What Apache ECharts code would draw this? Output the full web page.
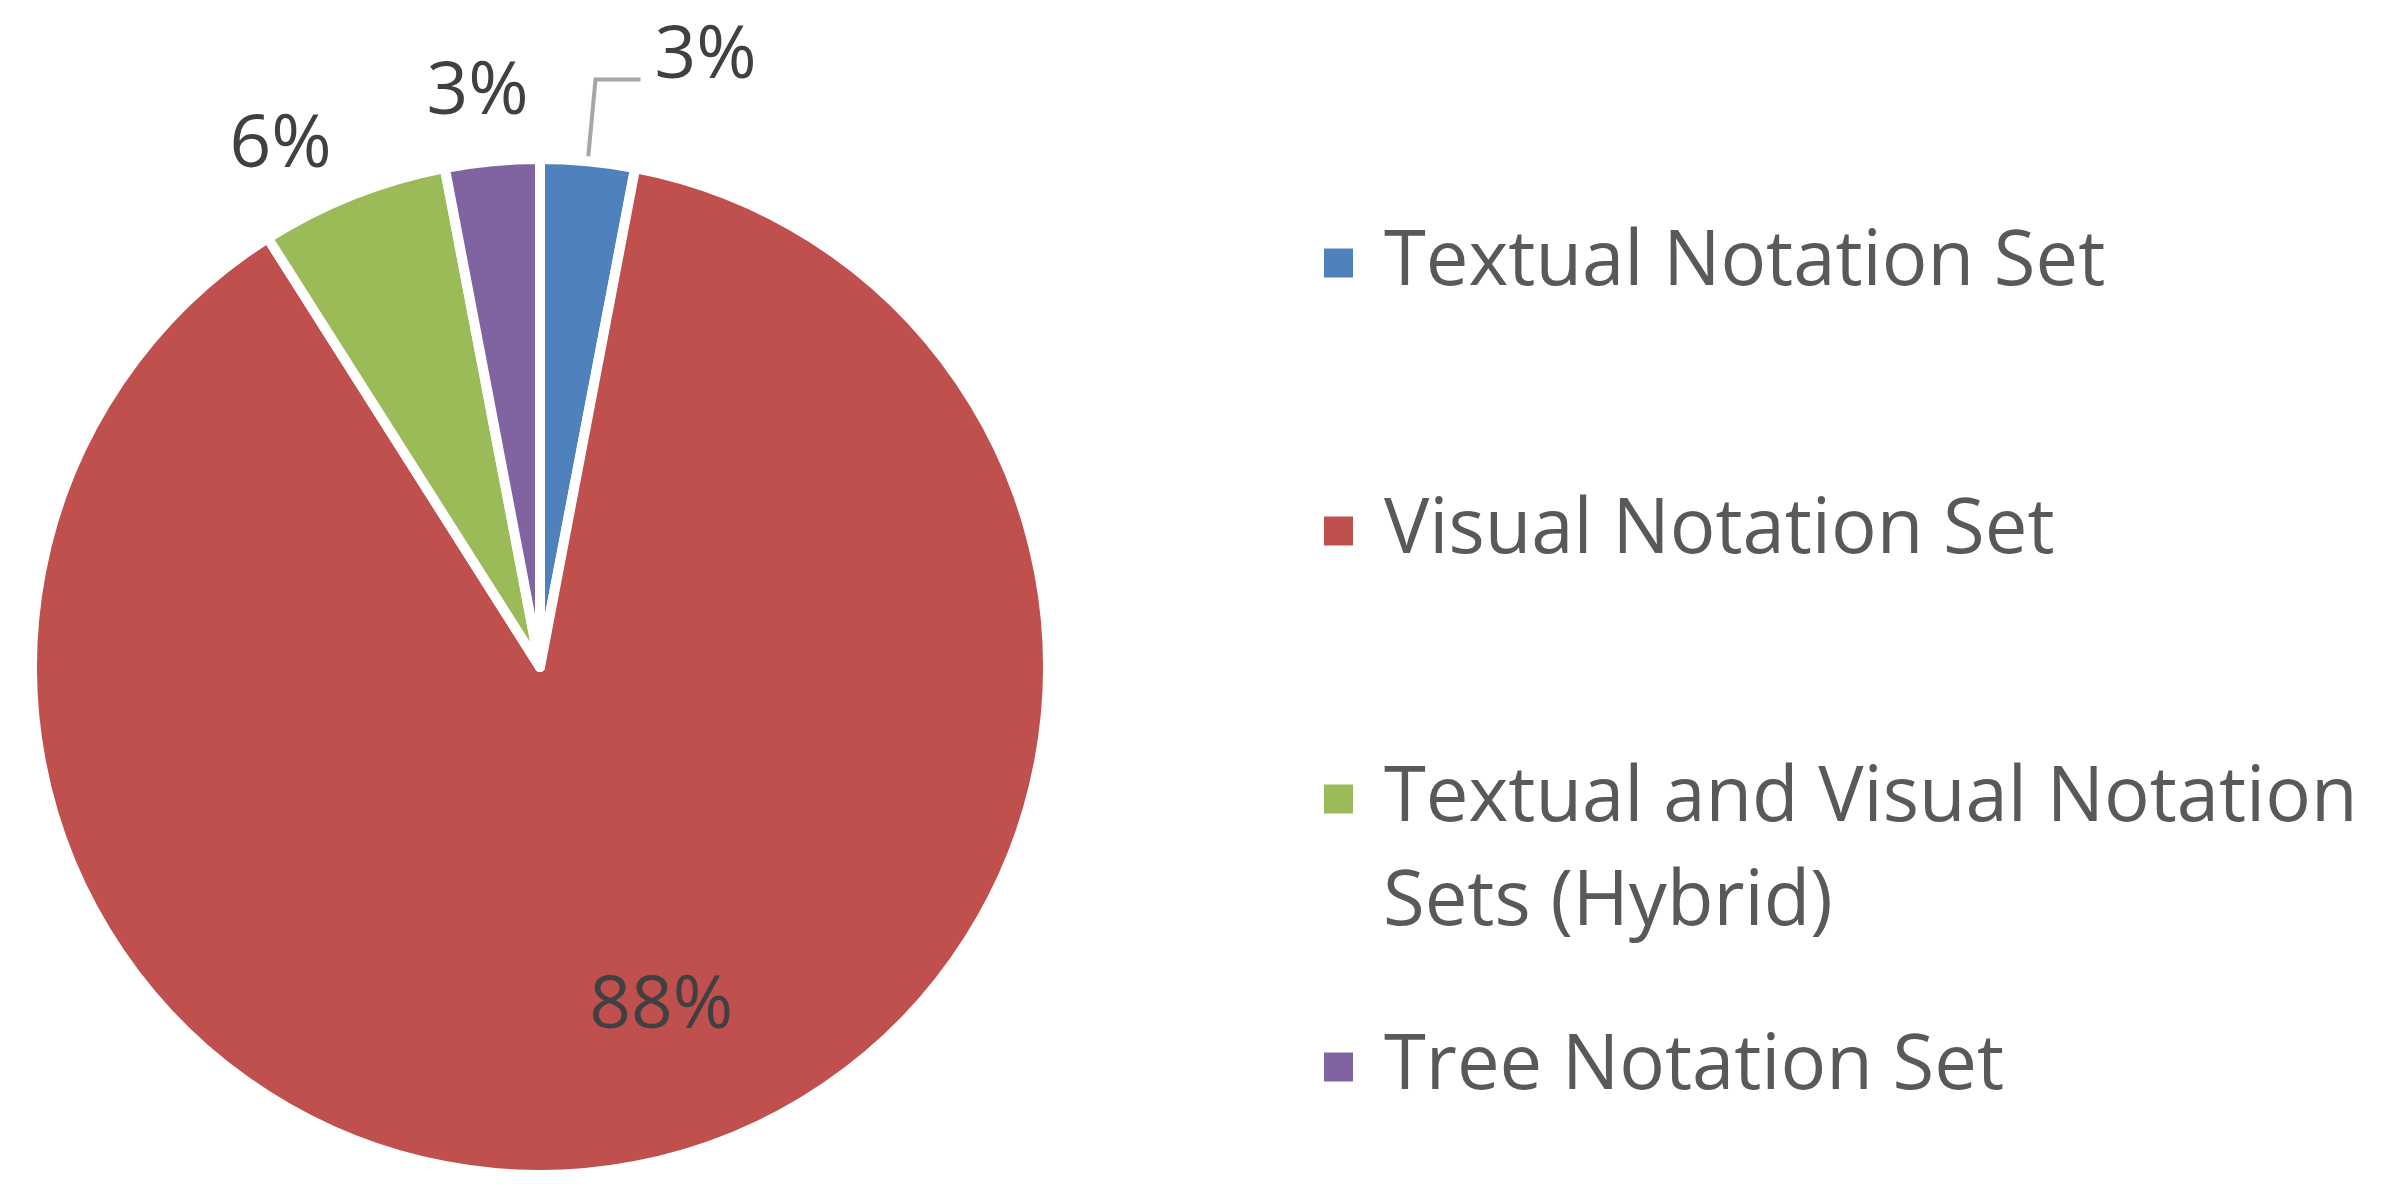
<!DOCTYPE html>
<html>
<head>
<meta charset="utf-8">
<script src="https://cdn.jsdelivr.net/npm/echarts@6/dist/echarts.min.js"></script>
<style>
html,body{margin:0;padding:0;background:#fff;}
#chart{width:2383px;height:1200px;}
</style>
</head>
<body>
<div id="chart"></div>
<script>
const categories = ['Textual Notation Set', 'Visual Notation Set', 'Textual and Visual Notation Sets (Hybrid)', 'Tree Notation Set'];
const legendLines = ['Textual Notation Set', 'Visual Notation Set', 'Textual and Visual Notation', 'Tree Notation Set'];
const hybridSecondLine = 'Sets (Hybrid)';
const percentValues = [3, 88, 6, 3];
const colors = ['#4F81BD', '#C0504D', '#9BBB59', '#8064A2'];

const FONT = 'Open Sans';
const labelShift = [[0, -22], [73, 88], [2, -2], [46, -18]];

const chart = echarts.init(document.getElementById('chart'));
chart.setOption({
  backgroundColor: '#ffffff',
  animation: false,
  title: {
    text: hybridSecondLine,
    left: 1383,
    top: 865,
    padding: 0,
    textStyle: {fontFamily: FONT, fontSize: 76, fontWeight: 'normal', color: '#595959', lineHeight: 76}
  },
  legend: {
    orient: 'vertical',
    left: 1322,
    top: 225,
    padding: 0,
    itemGap: 192,
    itemWidth: 31,
    itemHeight: 31,
    icon: 'rect',
    selectedMode: false,
    data: categories,
    formatter: function (name) { return legendLines[categories.indexOf(name)]; },
    textStyle: {fontFamily: FONT, fontSize: 76, color: '#595959', lineHeight: 76, padding: [0, 0, 0, 25]}
  },
  series: [{
    type: 'pie',
    center: [540, 667],
    radius: 508,
    startAngle: 90,
    clockwise: true,
    avoidLabelOverlap: false,
    itemStyle: {borderColor: '#ffffff', borderWidth: 10},
    label: {
      show: true,
      formatter: '{c}%',
      fontFamily: FONT,
      fontSize: 73,
      color: '#404040'
    },
    labelLine: {show: false, length: 50, length2: 0},
    labelLayout: function (params) {
      const s = labelShift[params.dataIndex];
      return {dx: s[0], dy: s[1]};
    },
    emphasis: {disabled: true},
    data: categories.map(function (name, i) {
      const d = {name: name, value: percentValues[i], itemStyle: {color: colors[i]}};
      if (i === 0) {
        d.label = {position: 'outside', distanceToLabelLine: 14};
        d.labelLine = {show: true, length: 82, length2: 45, lineStyle: {color: '#A6A6A6', width: 4}};
      } else if (i === 1) {
        d.label = {position: 'inside'};
      } else {
        d.label = {position: 'outside', distanceToLabelLine: 5};
        d.labelLine = {show: false, length: 50, length2: 0};
      }
      return d;
    })
  }]
});
</script>
</body>
</html>
